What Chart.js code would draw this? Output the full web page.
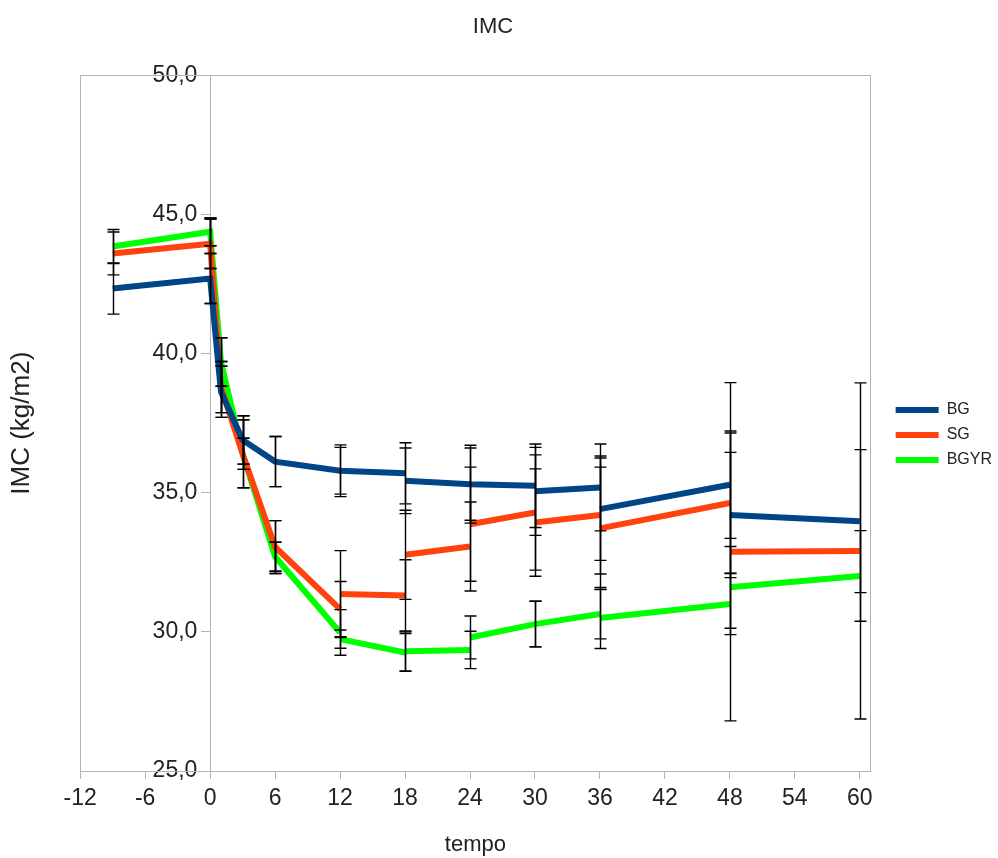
<!DOCTYPE html>
<html>
<head>
<meta charset="utf-8">
<script src="https://cdn.jsdelivr.net/npm/chart.js@4.4.1/dist/chart.umd.min.js"></script>
<style>
  html, body { margin: 0; padding: 0; background: #fff; }
  #wrap { width: 998px; height: 858px; }
</style>
</head>
<body>
<div id="wrap"><canvas id="grafico"></canvas></div>
<script>
// tempo (meses) de cada medida
const tempos = [-9, 0, 1, 3, 6, 12, 18, 24, 30, 36, 48, 60];
const xTicks = [-12, -6, 0, 6, 12, 18, 24, 30, 36, 42, 48, 54, 60];
const yTicks = [25, 30, 35, 40, 45, 50];

// cada intervalo tem valor no inicio e no fim (os segmentos nao se ligam sempre)
const bgInicio = [42.34, 42.70, 38.63, 36.90, 36.12, 35.79, 35.43, 35.31, 35.05, 34.41, 34.20];
const bgFim    = [42.70, 38.63, 36.90, 36.12, 35.79, 35.70, 35.31, 35.25, 35.19, 35.29, 33.98];
const sgInicio = [43.60, 43.95, 38.80, 36.40, 33.05, 31.36, 32.77, 33.87, 33.93, 33.72, 32.88];
const sgFim    = [43.95, 38.80, 36.40, 33.05, 30.82, 31.31, 33.07, 34.29, 34.20, 34.63, 32.91];
const bgyrInicio = [43.85, 44.38, 39.70, 36.40, 32.70, 29.74, 29.30, 29.80, 30.28, 30.50, 31.60];
const bgyrFim    = [44.38, 39.70, 36.40, 32.70, 29.98, 29.26, 29.35, 30.28, 30.64, 31.00, 32.01];

// desvios padrao (barras de erro)
const bgErrInicio = [0.92, 0.90, 0.92, 0.87, 0.90, 0.84, 1.18, 1.30, 1.58, 1.84, 2.25];
const bgErrFim    = [0.90, 0.92, 0.87, 0.90, 0.93, 1.10, 1.40, 1.50, 1.56, 1.93, 2.57];
const sgErrInicio = [0.77, 0.89, 0.92, 1.22, 0.95, 1.56, 1.60, 2.05, 1.93, 2.20, 6.08];
const sgErrFim    = [0.89, 0.92, 1.22, 0.95, 0.99, 1.28, 1.60, 2.07, 2.12, 2.52, 6.04];
const bgyrErrInicio = [0.61, 0.50, 0.87, 0.56, 0.52, 0.33, 0.70, 0.77, 0.82, 1.10, 1.47];
const bgyrErrFim    = [0.50, 0.87, 0.56, 0.52, 0.82, 0.68, 0.67, 0.82, 0.89, 1.10, 1.63];

const FONTE = "'Liberation Sans', Arial, sans-serif";

function montarPontos(inicio, fim) {
    const pts = [];
    for (let i = 0; i < inicio.length; i++) {
        if (i === 0 || inicio[i] !== fim[i - 1]) {
            if (i > 0) pts.push({ x: tempos[i], y: null }); // quebra a linha
            pts.push({ x: tempos[i], y: inicio[i] });
        }
        pts.push({ x: tempos[i + 1], y: fim[i] });
    }
    return pts;
}

const series = [
    { nome: 'BG', cor: '#004586', inicio: bgInicio, fim: bgFim, errInicio: bgErrInicio, errFim: bgErrFim },
    { nome: 'SG', cor: '#ff420e', inicio: sgInicio, fim: sgFim, errInicio: sgErrInicio, errFim: sgErrFim },
    { nome: 'BGYR', cor: '#00ff00', inicio: bgyrInicio, fim: bgyrFim, errInicio: bgyrErrInicio, errFim: bgyrErrFim }
];

// moldura cinza da area do grafico
const moldura = {
    id: 'moldura',
    beforeDatasetsDraw(chart) {
        const { ctx, chartArea: a } = chart;
        ctx.save();
        ctx.strokeStyle = '#b3b3b3';
        ctx.lineWidth = 1;
        ctx.strokeRect(Math.round(a.left) + 0.5, Math.round(a.top) + 0.5,
            Math.round(a.right - a.left), Math.round(a.bottom - a.top));
        ctx.restore();
    }
};

// afasta a legenda um pouco mais do grafico
const legendaAfastada = {
    id: 'legendaAfastada',
    afterLayout(chart) {
        const lg = chart.legend;
        if (!lg) return;
        lg.left += 16; lg.right += 16;
        lg.top += 6; lg.bottom += 6;
    }
};

// barras de erro desenhadas com as escalas do proprio grafico
const barrasErro = {
    id: 'barrasErro',
    afterDatasetsDraw(chart) {
        const { ctx, scales } = chart;
        const xs = scales.x, ys = scales.y;
        ctx.save();
        ctx.strokeStyle = '#000';
        ctx.lineWidth = 1.4;
        const barra = (t, v, e) => {
            const px = Math.round(xs.getPixelForValue(t)) + 0.5;
            const y1 = ys.getPixelForValue(v + e);
            const y2 = ys.getPixelForValue(v - e);
            ctx.beginPath();
            ctx.moveTo(px, y1); ctx.lineTo(px, y2);
            ctx.moveTo(px - 6, y1); ctx.lineTo(px + 6, y1);
            ctx.moveTo(px - 6, y2); ctx.lineTo(px + 6, y2);
            ctx.stroke();
        };
        series.forEach(s => {
            for (let i = 0; i < s.inicio.length; i++) {
                barra(tempos[i], s.inicio[i], s.errInicio[i]);
                barra(tempos[i + 1], s.fim[i], s.errFim[i]);
            }
        });
        ctx.restore();
    }
};

const ctx = document.getElementById('grafico').getContext('2d');
new Chart(ctx, {
    type: 'line',
    data: {
        datasets: series.map(s => ({
            label: s.nome,
            data: montarPontos(s.inicio, s.fim),
            borderColor: s.cor,
            backgroundColor: s.cor,
            borderWidth: 6,
            pointRadius: 0,
            pointHoverRadius: 0,
            spanGaps: false,
            tension: 0
        }))
    },
    options: {
        responsive: true,
        maintainAspectRatio: false,
        animation: false,
        layout: { padding: { left: 0, right: 12, top: 0, bottom: 0 } },
        plugins: {
            title: {
                display: true,
                text: 'IMC',
                color: '#222',
                font: { family: FONTE, size: 22, weight: 'normal' },
                padding: { top: 14, bottom: 35 }
            },
            legend: {
                position: 'right',
                labels: {
                    color: '#222',
                    font: { family: FONTE, size: 16 },
                    boxWidth: 43,
                    boxHeight: 6,
                    padding: 9,
                    generateLabels(chart) {
                        return Chart.defaults.plugins.legend.labels.generateLabels(chart)
                            .map(l => Object.assign(l, { lineWidth: 0 }));
                    }
                }
            },
            tooltip: { enabled: false }
        },
        scales: {
            x: {
                type: 'linear',
                position: 'bottom',
                min: -12,
                max: 61,
                afterBuildTicks(scale) {
                    scale.ticks = xTicks.map(v => ({ value: v }));
                },
                grid: { drawOnChartArea: false, tickLength: 8, color: '#b3b3b3' },
                border: { color: '#b3b3b3' },
                ticks: {
                    color: '#222',
                    font: { family: FONTE, size: 23 },
                    padding: 6,
                    maxRotation: 0,
                    autoSkip: false
                },
                title: {
                    display: true,
                    text: 'tempo',
                    color: '#222',
                    font: { family: FONTE, size: 22 },
                    padding: { top: 13, bottom: 0 }
                }
            },
            y: {
                type: 'linear',
                position: { x: 0 },
                min: 25,
                max: 50,
                afterBuildTicks(scale) {
                    scale.ticks = yTicks.map(v => ({ value: v }));
                },
                grid: { drawOnChartArea: false, tickLength: 9, color: '#b3b3b3' },
                border: { color: '#b3b3b3' },
                ticks: {
                    color: '#222',
                    font: { family: FONTE, size: 23 },
                    callback: v => v.toFixed(1).replace('.', ',') + '  '
                }
            },
            yTitulo: {
                type: 'linear',
                position: 'left',
                min: 0,
                max: 1,
                grid: { display: false },
                border: { display: false },
                ticks: { display: false },
                title: {
                    display: true,
                    text: 'IMC (kg/m2)',
                    color: '#222',
                    font: { family: FONTE, size: 26 },
                    padding: { top: 6, bottom: 35 }
                }
            }
        }
    },
    plugins: [moldura, legendaAfastada, barrasErro]
});
</script>
</body>
</html>
